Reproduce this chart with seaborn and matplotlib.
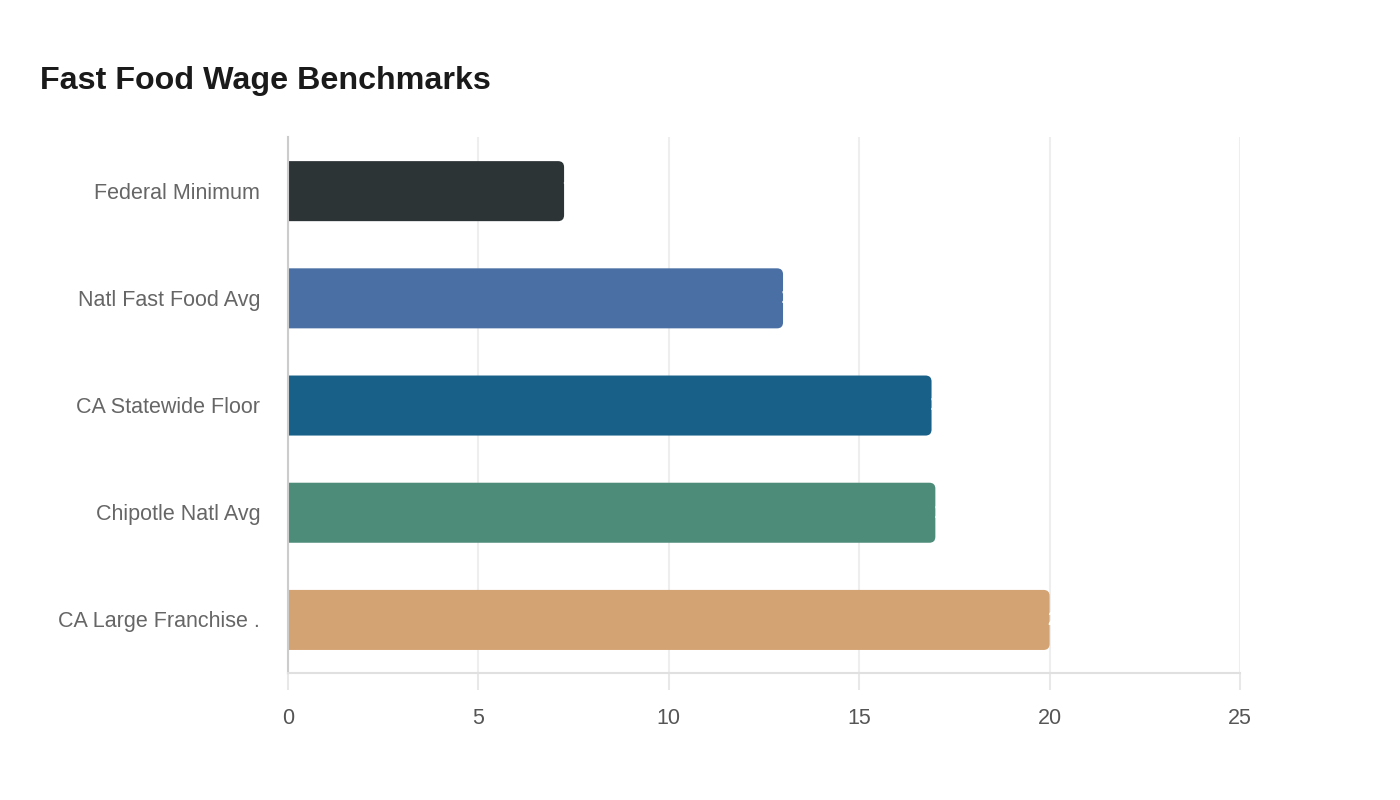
import matplotlib
matplotlib.use("Agg")
import matplotlib.pyplot as plt
from matplotlib.patches import FancyBboxPatch
import seaborn as sns
import pandas as pd

categories = ["Federal Minimum", "Natl Fast Food Avg", "CA Statewide Floor",
              "Chipotle Natl Avg", "CA Large Franchise ."]
wages = [7.25, 13.0, 16.9, 17.0, 20.0]
value_labels = ["7.25", "13.00", "16.90", "17.00", "20.00"]
colors = ["#2d3436", "#4a6fa5", "#186088", "#4e8c7a", "#d4a373"]
x_ticks = [0, 5, 10, 15, 20, 25]

df = pd.DataFrame({"category": categories, "wage": wages})

sns.set_theme(style="white")
plt.rcParams["font.family"] = ["Liberation Sans", "DejaVu Sans"]

fig = plt.figure(figsize=(14, 8), dpi=100)
ax = fig.add_axes([288 / 1400, 127 / 800, 952 / 1400, 536 / 800])

sns.barplot(data=df, y="category", x="wage", hue="category", palette=colors,
            orient="h", width=0.56, legend=False, ax=ax, saturation=1)

ax.set_xlim(0, 25)
ax.set_ylim(4.5, -0.5)

# rounded bars
r = 6 * 25 / 952
asp = (5 / 536) / (25 / 952)
old = list(ax.patches)
for p, lab in zip(old, value_labels):
    x0, y0, w, h = p.get_x(), p.get_y(), p.get_width(), p.get_height()
    fb = FancyBboxPatch((x0 - 0.5, y0 + 0.005), w + 0.5, h,
                        boxstyle=f"round,pad=0,rounding_size={r}",
                        mutation_aspect=asp, fc=p.get_facecolor(), ec="none",
                        zorder=2)
    ax.add_patch(fb)
    p.remove()
    ax.annotate(lab, xy=(x0 + w, y0 + h / 2), xytext=(-1.5, 0),
                textcoords="offset points", ha="left", va="center",
                color="white", fontsize=15, fontweight="bold", zorder=3)

ax.set_xticks(x_ticks)
ax.grid(axis="x", color="#eeeeee", linewidth=1.5, zorder=0)
ax.set_axisbelow(True)
ax.set_xlabel("")
ax.set_ylabel("")

for s in ["top", "right"]:
    ax.spines[s].set_visible(False)
ax.spines["left"].set_color("#cccccc")
ax.spines["left"].set_linewidth(1.5)
ax.spines["bottom"].set_color("#e0e0e0")
ax.spines["bottom"].set_linewidth(1.5)

ax.tick_params(axis="y", length=0, pad=20, labelsize=15.5, labelcolor="#666666")
ax.tick_params(axis="x", length=12, width=1.5, color="#e8e8e8", pad=13,
               labelsize=15.5, labelcolor="#555555", bottom=True)

fig.text(40 / 1400, 1 - 81 / 800, "Fast Food Wage Benchmarks", ha="left",
         va="center", fontsize=23.2, fontweight="bold", color="#1a1a1a")

fig.savefig("out.png", dpi=100, facecolor="white")
